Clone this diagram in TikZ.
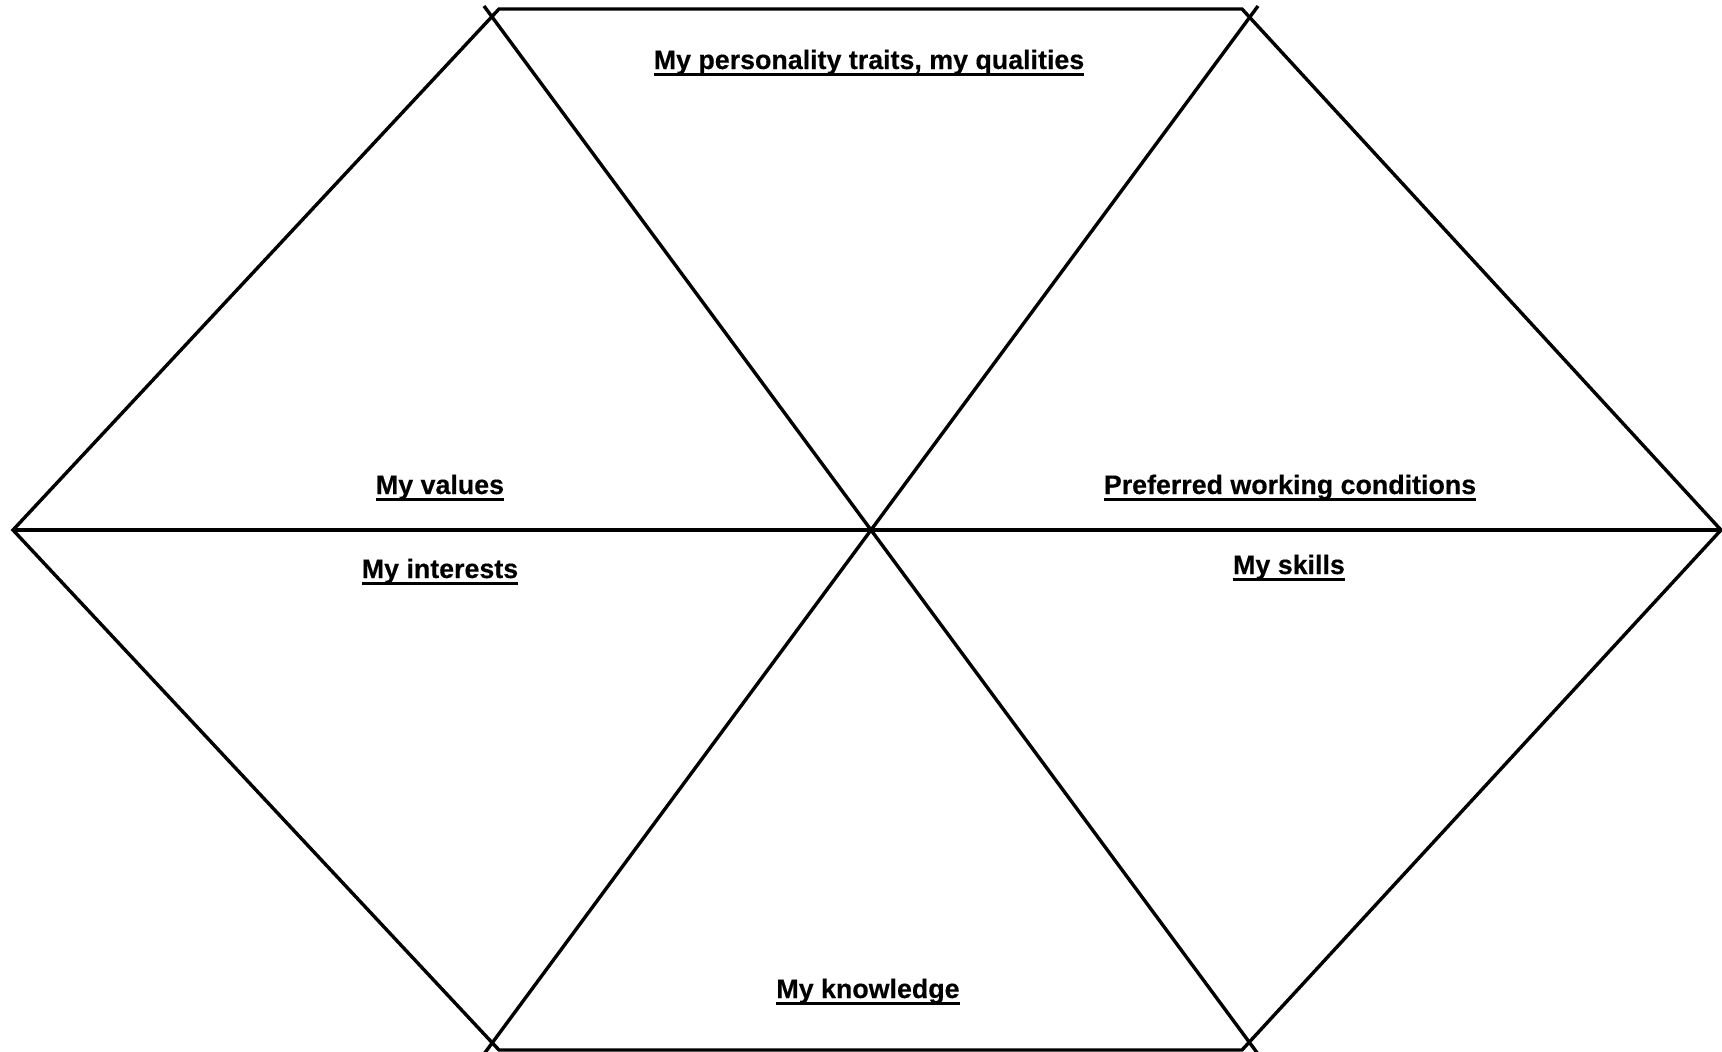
\documentclass[tikz,border=0pt]{standalone}
\usepackage{fontspec}
\setmainfont{Liberation Sans}[BoldFeatures={FakeBold=0.4}]
% bold heading with a solid underline below the baseline
\newcommand{\ulhead}[1]{\leavevmode\setbox0=\hbox{#1}\rlap{\vrule width \wd0 height -3.6pt depth 6.6pt}\box0}
\begin{document}
\begin{tikzpicture}[x=1pt,y=-1pt,
  edge/.style={line width=3.4pt, line join=miter},
  head/.style={anchor=base, inner sep=0pt, font=\fontsize{26.8}{30}\selectfont\bfseries}]
\useasboundingbox (0,0) rectangle (1722,1052);
% outer hexagon corners
\coordinate (L)  at (13,530);
\coordinate (TL) at (499,9);
\coordinate (TR) at (1242,9);
\coordinate (R)  at (1721,530);
\coordinate (BR) at (1242,1050);
\coordinate (BL) at (499,1050);
\coordinate (C)  at (871,530);
% ends of the two crossing diagonals
\coordinate (D1a) at (484,6);
\coordinate (D1b) at (1258,1054);
\coordinate (D2a) at (1258,6);
\coordinate (D2b) at (484,1054);
\draw[edge] (L) -- (TL) -- (TR) -- (R) -- (BR) -- (BL) -- cycle;
\draw[edge] (L) -- (R);
\draw[edge] (D1a) -- (C) -- (D1b);
\draw[edge] (D2a) -- (C) -- (D2b);
% section headings
\node[head] (traits)    at (869,69)  {\ulhead{My personality traits, my qualities}};
\node[head] (values)    at (440,494) {\ulhead{My values}};
\node[head] (workcond)  at (1290,494) {\ulhead{Preferred working conditions}};
\node[head] (interests) at (440,578) {\ulhead{My interests}};
\node[head] (skills)    at (1289,574) {\ulhead{My skills}};
\node[head] (knowledge) at (868,998) {\ulhead{My knowledge}};
\end{tikzpicture}
\end{document}
